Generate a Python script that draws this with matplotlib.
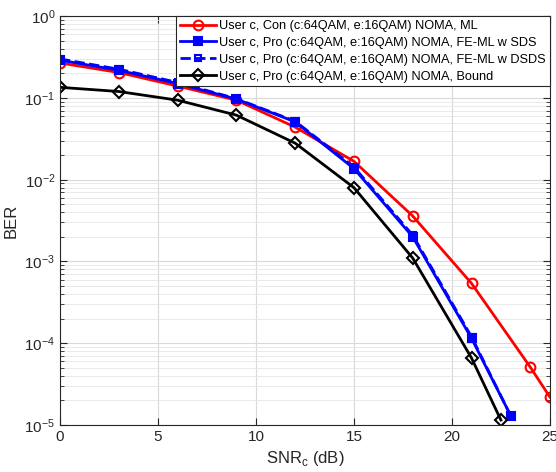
import numpy as np
import matplotlib.pyplot as plt
from matplotlib.ticker import LogLocator, NullFormatter

plt.rcParams['font.family'] = ['Liberation Sans', 'DejaVu Sans']

snr_con = [0, 3, 6, 9, 12, 15, 18, 21, 24, 25]
ber_con = [0.268, 0.205, 0.14, 0.094, 0.044, 0.0168, 0.0036, 5.4e-4, 5.1e-5, 2.2e-5]

snr_pro = [0, 3, 6, 9, 12, 15, 18, 21, 23]
ber_sds = [0.29, 0.218, 0.15, 0.097, 0.051, 0.0137, 0.0020, 1.15e-4, 1.3e-5]
ber_dsds = [0.30, 0.225, 0.155, 0.098, 0.052, 0.0143, 0.0021, 1.2e-4, 1.3e-5]

snr_bound = [0, 3, 6, 9, 12, 15, 18, 21, 22.5]
ber_bound = [0.135, 0.12, 0.094, 0.0617, 0.028, 0.008, 0.0011, 6.6e-5, 1.15e-5]

labels = ['User c, Con (c:64QAM, e:16QAM) NOMA, ML',
          'User c, Pro (c:64QAM, e:16QAM) NOMA, FE-ML w SDS',
          'User c, Pro (c:64QAM, e:16QAM) NOMA, FE-ML w DSDS',
          'User c, Pro (c:64QAM, e:16QAM) NOMA, Bound']

fig = plt.figure(figsize=(5.56, 4.72), dpi=100)
ax = fig.add_axes([0.108, 0.0996, 0.881, 0.866])

ax.semilogy(snr_con, ber_con, 'r-o', lw=2, ms=7, mfc='none', mew=1.5, label=labels[0])
ax.semilogy(snr_pro, ber_sds, 'b-s', lw=2, ms=6, mfc='b', mew=1.5, label=labels[1])
ax.semilogy(snr_pro, ber_dsds, 'b--s', lw=2, ms=5, mfc='none', mew=1.5, label=labels[2])
ax.semilogy(snr_bound, ber_bound, 'k-D', lw=2, ms=6, mfc='none', mew=1.5, label=labels[3])

ax.set_xlim(0, 25)
ax.set_ylim(1e-5, 1)
ax.set_xticks([0, 5, 10, 15, 20, 25])
ax.yaxis.set_major_locator(LogLocator(base=10, numticks=10))
ax.yaxis.set_minor_locator(LogLocator(base=10, subs=np.arange(2, 10), numticks=10))
ax.yaxis.set_minor_formatter(NullFormatter())

ax.grid(True, which='major', color='#d9d9d9', lw=0.8)
ax.grid(True, which='minor', axis='y', color='#e6e6e6', lw=0.6)
ax.set_axisbelow(True)

ax.tick_params(which='both', direction='in', top=True, right=True, colors='#262626', labelsize=11)
ax.tick_params(which='major', length=5)
ax.tick_params(which='minor', length=3)
for s in ax.spines.values():
    s.set_color('#262626')
    s.set_linewidth(0.8)

ax.set_xlabel('SNR$_\\mathregular{c}$ (dB)', fontsize=12, color='#262626')
ax.set_ylabel('BER', fontsize=12, color='#262626')

leg = ax.legend(loc='upper right', fontsize=9.2, fancybox=False, framealpha=1,
                edgecolor='#262626', borderpad=0.3, labelspacing=0.38,
                handlelength=2.8, handletextpad=0.3, borderaxespad=0.0)
leg.get_frame().set_linewidth(0.8)

plt.savefig('out.png', dpi=100)
